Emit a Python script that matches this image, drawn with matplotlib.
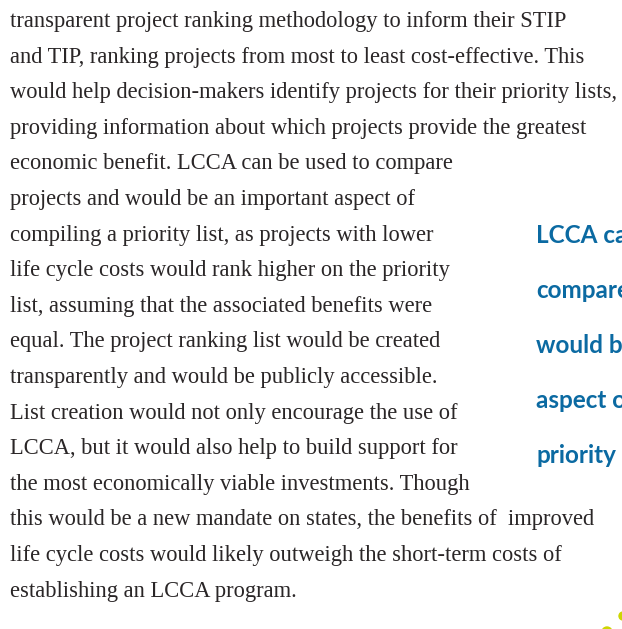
import matplotlib
matplotlib.use("Agg")
import matplotlib.pyplot as plt
from matplotlib.patches import Circle

# body text, one entry per printed line
body_lines = [
    "transparent project ranking methodology to inform their STIP",
    "and TIP, ranking projects from most to least cost-effective. This",
    "would help decision-makers identify projects for their priority lists,",
    "providing information about which projects provide the greatest",
    "economic benefit. LCCA can be used to compare",
    "projects and would be an important aspect of",
    "compiling a priority list, as projects with lower",
    "life cycle costs would rank higher on the priority",
    "list, assuming that the associated benefits were",
    "equal. The project ranking list would be created",
    "transparently and would be publicly accessible.",
    "List creation would not only encourage the use of",
    "LCCA, but it would also help to build support for",
    "the most economically viable investments. Though",
    "this would be a new mandate on states, the benefits of  improved",
    "life cycle costs would likely outweigh the short-term costs of",
    "establishing an LCCA program.",
]

# pull quote on the right, cut by the page edge
quote_lines = ["LCCA can", "compare", "would be", "aspect of", "priority"]

W, H = 622, 629
fig = plt.figure(figsize=(W / 100, H / 100), dpi=100)
ax = fig.add_axes([0, 0, 1, 1])
ax.set_xlim(0, W)
ax.set_ylim(H, 0)
ax.axis("off")

text_col = "#2a2627"
first_base = 27
pitch = 35.6

texts = []
for i, line in enumerate(body_lines):
    t = ax.text(10, first_base + i * pitch, line, family="Liberation Serif",
                fontsize=15, color=text_col, va="baseline", ha="left")
    texts.append(t)

# fit the longest line to the column width
fig.canvas.draw()
r = fig.canvas.get_renderer()
w = texts[2].get_window_extent(r).width
size = 15 * 610 / w
for t in texts:
    t.set_fontsize(size)

blue = "#0b6aa2"
for i, line in enumerate(quote_lines):
    ax.text(536, 243 + i * 55, line, family="Lato", fontweight="bold",
            fontsize=17.5, color=blue, va="baseline", ha="left", clip_on=False)

# bits of the green decoration in the corner
for cx, cy, rad in [(623, 616, 4), (607, 632, 5)]:
    ax.add_patch(Circle((cx, cy), rad, color="#cdd600", clip_on=True))

fig.savefig("out.png", dpi=100)
